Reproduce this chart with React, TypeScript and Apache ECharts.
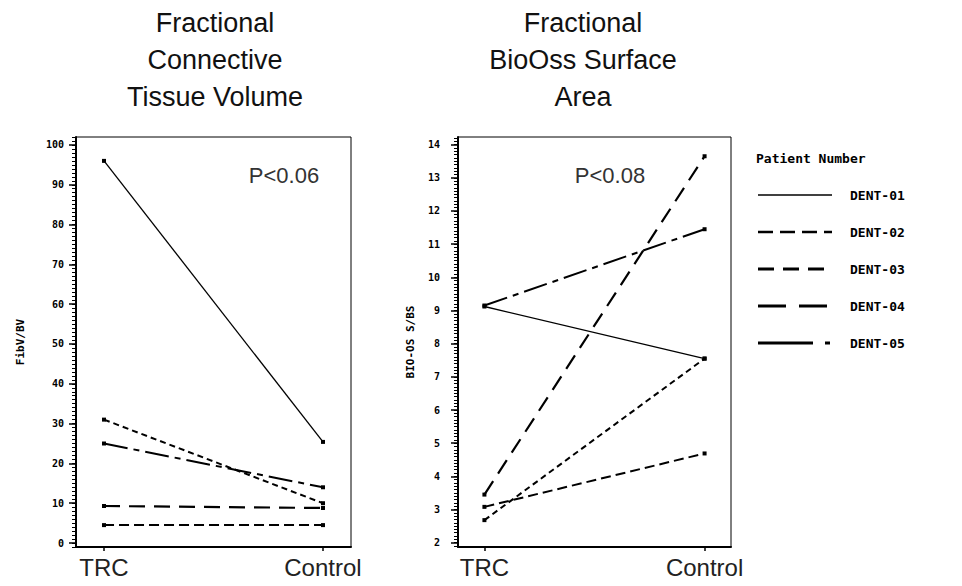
import React, { useEffect, useRef } from "react";
import * as echarts from "echarts";

// ---- data ----
const conditions = ["TRC", "Control"];
const patients = ["DENT-01", "DENT-02", "DENT-03", "DENT-04", "DENT-05"];
// Fractional Connective Tissue Volume (FibV/BV)
const fcvTRC = [96, 31, 4.5, 9.3, 25];
const fcvControl = [25.4, 10, 4.5, 8.8, 14];
// Fractional BioOss Surface Area (BIO-OS S/BS)
const bsaTRC = [9.12, 2.68, 3.08, 3.45, 9.15];
const bsaControl = [7.55, 7.55, 4.69, 13.65, 11.45];
const fcvTicks = [0, 10, 20, 30, 40, 50, 60, 70, 80, 90, 100];
const bsaTicks = [2, 3, 4, 5, 6, 7, 8, 9, 10, 11, 12, 13, 14];
const titles = ["Fractional\nConnective\nTissue Volume", "Fractional\nBioOss Surface\nArea"];
const pValues = ["P<0.06", "P<0.08"];
const yNames = ["FibV/BV", "BIO-OS S/BS"];
const legendTitle = "Patient Number";

// ---- styles ----
const plotDash: (number[] | "solid")[] = ["solid", [6, 4], [10, 5], [16, 9], [24, 6, 6, 6]];
const plotWidth = [1.3, 2, 2, 2.2, 2];
const legendDash: (number[] | null)[] = [null, [15, 7], [16, 9], [28, 13], [55, 12, 5, 12]];
const legendWidth = [1.3, 2.5, 3, 3, 3];
const pixelFont = "DejaVu Sans Mono";
const sansFont = "Liberation Sans, Arial, sans-serif";

function rangeTicks(min: number, max: number, step: number) {
  const out: number[] = [];
  const n = Math.round((max - min) / step);
  for (let i = 0; i <= n; i++) out.push(Math.round((min + i * step) * 100) / 100);
  return out;
}

export default function App() {
  const ref = useRef<HTMLDivElement>(null);
  useEffect(() => {
    if (!ref.current) return;
    const chart = echarts.init(ref.current, undefined, { renderer: "svg" });

    const panels = [
      { trc: fcvTRC, ctl: fcvControl, ticks: fcvTicks, min: -1, max: 102, minor: rangeTicks(-1, 102, 1),
        grid: { left: 76, top: 137, width: 275, height: 410 }, xmin: -0.128, xmax: 1.128, labelMargin: 12, nameGap: 50 },
      { trc: bsaTRC, ctl: bsaControl, ticks: bsaTicks, min: 1.87, max: 14.23, minor: rangeTicks(1.9, 14.2, 0.1),
        grid: { left: 458, top: 137, width: 273, height: 410 }, xmin: -0.12, xmax: 1.12, labelMargin: 18, nameGap: 42 },
    ];

    const grids: any[] = [];
    const xAxes: any[] = [];
    const yAxes: any[] = [];
    const series: any[] = [];

    panels.forEach((p, pi) => {
      grids.push({ ...p.grid, show: true, borderColor: "#000", borderWidth: 1, backgroundColor: "transparent" });
      xAxes.push({
        type: "value", gridIndex: pi, min: p.xmin, max: p.xmax,
        axisLine: { show: true, onZero: false, lineStyle: { color: "#000", width: 2 } },
        axisTick: { show: true, length: 4, customValues: [0, 1], lineStyle: { color: "#000", width: 1.5 } },
        axisLabel: { show: true, customValues: [0, 1], margin: 8, fontSize: 24, fontFamily: sansFont, color: "#222",
          formatter: (v: number) => conditions[Math.round(v)] ?? "" },
        splitLine: { show: false },
      });
      // major ticks + labels
      yAxes.push({
        type: "value", gridIndex: pi, min: p.min, max: p.max, position: "left",
        name: yNames[pi], nameLocation: "middle", nameRotate: 90, nameGap: p.nameGap,
        nameTextStyle: { fontFamily: pixelFont, fontWeight: "bold", fontSize: 11, color: "#000" },
        axisLine: { show: true, onZero: false, lineStyle: { color: "#000", width: 2 } },
        axisTick: { show: true, length: 7, customValues: p.ticks, lineStyle: { color: "#000", width: 1.5 } },
        axisLabel: { show: true, customValues: p.ticks, margin: p.labelMargin, fontFamily: pixelFont, fontWeight: "bold", fontSize: 10, color: "#000" },
        splitLine: { show: false },
      });
      // minor ticks
      yAxes.push({
        type: "value", gridIndex: pi, min: p.min, max: p.max, position: "left",
        axisLine: { show: false, onZero: false },
        axisTick: { show: true, length: 4, customValues: p.minor, lineStyle: { color: "#000", width: 1 } },
        axisLabel: { show: false },
        splitLine: { show: false },
      });
      patients.forEach((name, i) => {
        series.push({
          type: "line", name, xAxisIndex: pi, yAxisIndex: pi * 2,
          data: [[0, p.trc[i]], [1, p.ctl[i]]],
          symbol: "rect", symbolSize: 4, showSymbol: true,
          itemStyle: { color: "#000" },
          lineStyle: { color: "#000", width: plotWidth[i], type: plotDash[i] },
          silent: true,
        });
      });
    });

    const graphic: any[] = [];
    const titleX = [215, 583];
    titles.forEach((t, i) => {
      graphic.push({ type: "text", x: titleX[i], y: 4,
        style: { text: t, fill: "#111", fontSize: 27, fontFamily: sansFont, align: "center", verticalAlign: "top", lineHeight: 37 } });
    });
    const pX = [284, 610];
    pValues.forEach((t, i) => {
      graphic.push({ type: "text", x: pX[i], y: 175,
        style: { text: t, fill: "#333", fontSize: 22, fontFamily: sansFont, align: "center", verticalAlign: "middle" } });
    });
    graphic.push({ type: "text", x: 756, y: 158,
      style: { text: legendTitle, fill: "#000", fontSize: 13, fontFamily: pixelFont, fontWeight: "bold", align: "left", verticalAlign: "middle" } });
    patients.forEach((name, i) => {
      const y = 195 + 37 * i;
      graphic.push({ type: "line", shape: { x1: 758, y1: y, x2: 832, y2: y },
        style: { stroke: "#000", lineWidth: legendWidth[i], lineDash: legendDash[i] || undefined } });
      graphic.push({ type: "text", x: 850, y,
        style: { text: name, fill: "#000", fontSize: 13, fontFamily: pixelFont, fontWeight: "bold", align: "left", verticalAlign: "middle" } });
    });

    chart.setOption({
      animation: false,
      backgroundColor: "#fff",
      grid: grids,
      xAxis: xAxes,
      yAxis: yAxes,
      series,
      graphic,
    });
    return () => chart.dispose();
  }, []);
  return <div ref={ref} style={{ position: "absolute", left: 0, top: 0, width: 962, height: 586 }} />;
}
